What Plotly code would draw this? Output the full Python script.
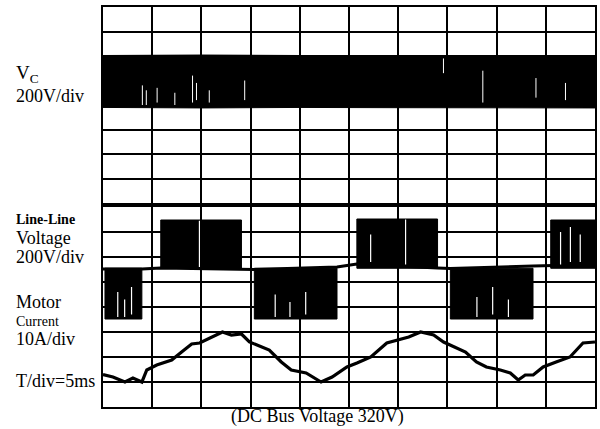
import plotly.graph_objects as go

# ---------------- data (time in ms, 5 ms/div; amplitudes in divisions) ----------------
# Top trace: capacitor voltage Vc (dense PWM band -> envelope)
vc_t = [0, 10, 20, 30, 40, 50]
vc_high = [6.02, 6.04, 6.02, 6.03, 6.01, 6.02]
vc_low = [3.90, 3.88, 3.90, 3.89, 3.90, 3.88]
# visible white gaps inside the Vc band (time, low, high)
vc_slit_t = [4.0, 4.4, 5.5, 7.3, 9.1, 9.5, 10.8, 14.4, 34.6, 38.6, 44.0, 47.0]
vc_slit_lo = [4.0, 4.0, 4.1, 4.0, 4.1, 4.2, 4.1, 4.2, 5.3, 4.1, 4.3, 4.2]
vc_slit_hi = [4.8, 4.6, 4.7, 4.5, 5.2, 4.9, 4.6, 5.0, 5.9, 5.4, 5.1, 4.9]

# Line-line voltage: PWM blocks (start, end, level) around a zero baseline
ll_start = [0.2, 5.87, 15.38, 25.8, 35.3, 45.5]
ll_end = [3.95, 14.07, 23.78, 34.0, 43.7, 50.0]
ll_level = [3.52, 7.48, 3.52, 7.52, 3.52, 7.48]
ll_base_t = [0.0, 3.95, 5.87, 14.07, 15.38, 23.78, 25.8, 34.0, 35.3, 43.7, 45.5, 50.0]
ll_base_v = [5.52, 5.52, 5.56, 5.50, 5.50, 5.60, 5.72, 5.56, 5.54, 5.64, 5.66, 5.70]
# visible white gaps inside the line-line blocks
ll_slit_t = [1.5, 2.2, 2.9, 9.8, 27.2, 30.75, 46.5, 47.5, 48.5, 17.5, 19.0, 20.6, 38.0, 39.6, 41.2]
ll_slit_lo = [3.6, 3.6, 3.7, 5.6, 5.8, 5.7, 5.7, 5.8, 5.8, 3.6, 3.6, 3.7, 3.6, 3.7, 3.6]
ll_slit_hi = [4.6, 4.3, 4.8, 7.45, 6.9, 7.5, 7.0, 7.2, 6.9, 4.5, 4.2, 4.6, 4.4, 4.8, 4.3]

# Motor current
cur_t = [0.0, 0.2, 1.01, 2.23, 3.04, 3.95, 4.45, 5.46, 6.98, 7.99, 9.01, 9.82, 10.83,
         12.14, 13.05, 14.07, 14.88, 16.9, 18.12, 19.13, 20.64, 22.16, 23.28, 24.79,
         25.81, 27.22, 28.84, 30.06, 31.07, 32.28, 33.6, 34.61, 35.93, 36.84, 37.95,
         38.96, 40.38, 41.39, 42.2, 42.91, 43.72, 44.73, 46.05, 47.46, 48.78, 50.0]
cur_v = [1.30, 1.28, 1.20, 1.00, 1.16, 1.00, 1.48, 1.68, 1.88, 2.20, 2.52, 2.56, 2.76,
         3.00, 2.88, 2.92, 2.60, 2.28, 1.80, 1.48, 1.36, 1.00, 1.20, 1.60,
         1.76, 2.00, 2.56, 2.68, 2.80, 3.00, 2.88, 2.60, 2.36, 2.20, 1.80,
         1.60, 1.48, 1.36, 1.08, 1.28, 1.28, 1.60, 1.80, 2.00, 2.56, 2.60]

# ---------------- layout geometry ----------------
W, H = 600, 429
L, R, T, B = 103, 3, 7, 22
PW, PH = W - L - R, H - T - B


def px(x, y):
    return (x - L) / PW, (H - B - y) / PH


fig = go.Figure()

# Vc band
fig.add_trace(go.Scatter(x=vc_t + vc_t[::-1], y=vc_high + vc_low[::-1], fill="toself",
                         fillcolor="black", line=dict(color="black", width=1),
                         mode="lines", xaxis="x2", yaxis="y2", hoverinfo="skip"))
sx, sy = [], []
for t, lo, hi in zip(vc_slit_t, vc_slit_lo, vc_slit_hi):
    sx += [t, t, None]
    sy += [lo, hi, None]
fig.add_trace(go.Scatter(x=sx, y=sy, mode="lines", line=dict(color="white", width=1),
                         xaxis="x2", yaxis="y2", hoverinfo="skip"))

# Line-line baseline
fig.add_trace(go.Scatter(x=ll_base_t, y=ll_base_v, mode="lines",
                         line=dict(color="black", width=3), xaxis="x", yaxis="y",
                         hoverinfo="skip"))
# Line-line PWM blocks
for s, e, lv in zip(ll_start, ll_end, ll_level):
    base = 5.55
    fig.add_trace(go.Scatter(x=[s, s, e, e, s], y=[base, lv, lv, base, base], fill="toself",
                             fillcolor="black", line=dict(color="black", width=1),
                             mode="lines", xaxis="x", yaxis="y", hoverinfo="skip"))
sx, sy = [], []
for t, lo, hi in zip(ll_slit_t, ll_slit_lo, ll_slit_hi):
    sx += [t, t, None]
    sy += [lo, hi, None]
fig.add_trace(go.Scatter(x=sx, y=sy, mode="lines", line=dict(color="white", width=1.2),
                         xaxis="x", yaxis="y", hoverinfo="skip"))

# Motor current
fig.add_trace(go.Scatter(x=cur_t, y=cur_v, mode="lines",
                         line=dict(color="black", width=3.2), xaxis="x", yaxis="y",
                         hoverinfo="skip"))

axis_common = dict(showgrid=True, gridcolor="black", gridwidth=2, showline=True,
                   linecolor="black", linewidth=2, mirror=True, showticklabels=False,
                   ticks="", zeroline=False, fixedrange=True)

fig.update_layout(
    width=W, height=H, margin=dict(l=L, r=R, t=T, b=B),
    paper_bgcolor="white", plot_bgcolor="white", showlegend=False,
    xaxis=dict(domain=[0, 1], range=[0, 50], dtick=5, anchor="y", **axis_common),
    yaxis=dict(domain=[0, 0.5], range=[0, 8], dtick=1, anchor="x", **axis_common),
    xaxis2=dict(domain=[0, 1], range=[0, 50], dtick=5, anchor="y2", **axis_common),
    yaxis2=dict(domain=[0.51, 1], range=[0, 8], dtick=1, anchor="x2", **axis_common),
    font=dict(family="Liberation Serif", color="black"),
)

labels = [
    ("V<sub>C</sub>", 14, 74, 19, False),
    ("200V/div", 14, 96, 18, False),
    ("Line-Line", 14, 219, 14, True),
    ("Voltage", 14, 238, 18, False),
    ("200V/div", 14, 257, 18, False),
    ("Motor", 14, 302, 18, False),
    ("Current", 14, 321, 14, False),
    ("10A/div", 14, 339, 18, False),
    ("T/div=5ms", 14, 381, 18, False),
]
for text, x, y, size, bold in labels:
    xp, yp = px(x, y)
    fig.add_annotation(text=f"<b>{text}</b>" if bold else text, x=xp, y=yp,
                       xref="paper", yref="paper", xanchor="left", yanchor="middle",
                       showarrow=False, font=dict(size=size))

xp, yp = px(318, 417)
fig.add_annotation(text="(DC Bus Voltage 320V)", x=xp, y=yp, xref="paper", yref="paper",
                   xanchor="center", yanchor="middle", showarrow=False, font=dict(size=18))

fig.write_html("out.html", config={"displayModeBar": False},
               post_script="document.body.style.margin='0';document.body.style.overflow='hidden';")
